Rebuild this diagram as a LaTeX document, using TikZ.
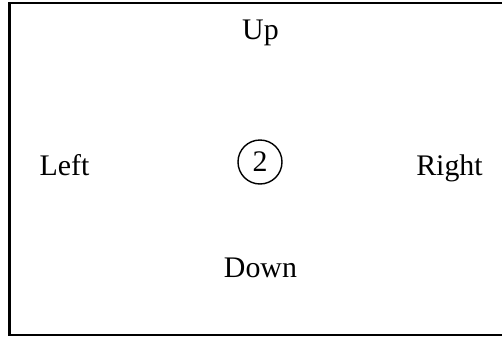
\documentclass[tikz,border=0pt]{standalone}
\usepackage{fontspec}
\setmainfont{Liberation Serif}
\usepackage{tikz}
\usetikzlibrary{calc}

\begin{document}
\begin{tikzpicture}[scale=1, >=stealth, font=\fontsize{17}{20}\selectfont]
    \useasboundingbox (0,0) rectangle (10.04,6.74);
    \draw[line width=1.2pt] (10.3,0.04) -- (0.19,0.04) -- (0.19,6.68) -- (10.3,6.68);
    \node[draw, thick, circle, minimum size=0.88cm, inner sep=0pt] (state) at (5.2,3.5) {2};
    \node[anchor=base] (up) at (5.21,5.96) {Up};
    \node[anchor=base] (down) at (5.21,1.20) {Down};
    \node[anchor=base] (left) at (1.29,3.24) {Left};
    \node[anchor=base] (right) at (8.99,3.24) {Right};
\end{tikzpicture}
\end{document}
